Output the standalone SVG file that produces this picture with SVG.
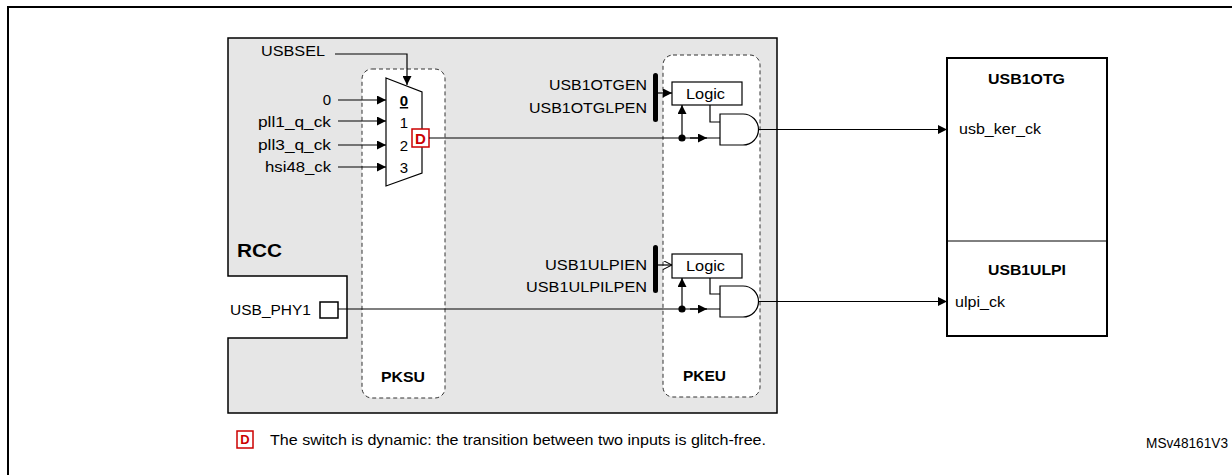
<svg xmlns="http://www.w3.org/2000/svg" width="1232" height="475" viewBox="0 0 1232 475">
<defs>
<style>
text{font-family:"Liberation Sans",Arial,sans-serif;font-size:15px;fill:#000}
.b{font-weight:bold}
.r{text-anchor:end}
.m{text-anchor:middle}
.ln{stroke:#000;stroke-width:1.2;fill:none}
.dash{stroke:#333;stroke-width:1;stroke-dasharray:4,3;fill:#fff}
</style>
<marker id="a" viewBox="0 0 10 10" refX="10" refY="5" markerWidth="9" markerHeight="9" markerUnits="userSpaceOnUse" orient="auto"><path d="M0,0L10,5L0,10z" fill="#000"/></marker>
<marker id="o" viewBox="0 0 10 10" refX="10" refY="5" markerWidth="9" markerHeight="9" markerUnits="userSpaceOnUse" orient="auto"><path d="M0,0L10,5L0,10" fill="none" stroke="#000" stroke-width="1.2"/></marker>
</defs>
<rect x="0" y="0" width="1232" height="475" fill="#fff"/>
<path d="M8,475V7H1232" fill="none" stroke="#000" stroke-width="2"/>
<g id="rcc">
<path d="M228,38H777V413H228V338H347V276H228Z" fill="#e6e6e6" stroke="#000" stroke-width="1.5"/>
<text x="237" y="257" class="b" style="font-size:18px" textLength="45" lengthAdjust="spacingAndGlyphs">RCC</text>
</g>
<g id="pksu"><rect x="362" y="69" width="83" height="329" rx="10" class="dash"/><text x="381" y="382" class="b" textLength="44" lengthAdjust="spacingAndGlyphs">PKSU</text></g>
<g id="pkeu"><rect x="663" y="55" width="97" height="342" rx="10" class="dash"/><text x="683" y="381" class="b" textLength="43" lengthAdjust="spacingAndGlyphs">PKEU</text></g>
<g id="mux">
<path d="M386,78L422,92V173L386,186Z" fill="#fff" stroke="#000" stroke-width="1.2"/>
<text x="404" y="106" class="b m" text-decoration="underline">0</text>
<text x="404" y="128" class="m">1</text>
<text x="404" y="151" class="m">2</text>
<text x="404" y="173" class="m">3</text>
<rect x="412" y="129" width="17" height="18" fill="#fff" stroke="#c00" stroke-width="1.5"/>
<text x="420.5" y="144" class="b m" style="fill:#c00">D</text>
</g>
<g id="inputs">
<text x="261" y="56" textLength="64" lengthAdjust="spacingAndGlyphs">USBSEL</text>
<text x="331" y="105" class="r">0</text>
<text x="258" y="127" textLength="73" lengthAdjust="spacingAndGlyphs">pll1_q_ck</text>
<text x="258" y="150" textLength="73" lengthAdjust="spacingAndGlyphs">pll3_q_ck</text>
<text x="265" y="172" textLength="66" lengthAdjust="spacingAndGlyphs">hsi48_ck</text>
</g>
<g id="usbphy1"><text x="230" y="315" textLength="81" lengthAdjust="spacingAndGlyphs">USB_PHY1</text><rect x="320" y="302" width="18" height="16" fill="#fff" stroke="#000" stroke-width="1.5"/></g>
<g id="logic1">
<rect x="653" y="73" width="5" height="49" rx="2.5" fill="#000"/>
<text x="549" y="90" textLength="98" lengthAdjust="spacingAndGlyphs">USB1OTGEN</text>
<text x="529" y="113" textLength="118" lengthAdjust="spacingAndGlyphs">USB1OTGLPEN</text>
<rect x="672" y="82" width="70" height="23" fill="#fff" stroke="#000" stroke-width="1.2"/>
<text x="686" y="99" textLength="39" lengthAdjust="spacingAndGlyphs">Logic</text>
<path d="M720,114H743A15.5,15.5 0 0 1 743,145H720Z" fill="#fff" stroke="#000" stroke-width="1.2"/>
</g>
<g id="logic2">
<rect x="653" y="245" width="5" height="48" rx="2.5" fill="#000"/>
<text x="545" y="270" textLength="102" lengthAdjust="spacingAndGlyphs">USB1ULPIEN</text>
<text x="526" y="292" textLength="121" lengthAdjust="spacingAndGlyphs">USB1ULPILPEN</text>
<rect x="672" y="254" width="70" height="24" fill="#fff" stroke="#000" stroke-width="1.2"/>
<text x="686" y="271" textLength="39" lengthAdjust="spacingAndGlyphs">Logic</text>
<path d="M720,286H743A15.5,15.5 0 0 1 743,317H720Z" fill="#fff" stroke="#000" stroke-width="1.2"/>
</g>
<g id="usb1otg">
<rect x="947" y="58" width="160" height="278" fill="#fff" stroke="#000" stroke-width="2"/>
<line x1="947" y1="241" x2="1107" y2="241" stroke="#000" stroke-width="1"/>
<text x="988" y="84" class="b" textLength="77" lengthAdjust="spacingAndGlyphs">USB1OTG</text>
<text x="959" y="134" textLength="82" lengthAdjust="spacingAndGlyphs">usb_ker_ck</text>
<text x="988" y="275" class="b" textLength="78" lengthAdjust="spacingAndGlyphs">USB1ULPI</text>
<text x="955" y="307" textLength="50" lengthAdjust="spacingAndGlyphs">ulpi_ck</text>
</g>
<g id="connectors" class="ln">
<path d="M335,54H407V85" marker-end="url(#a)"/>
<path d="M338,100H386" marker-end="url(#a)"/>
<path d="M338,121H386" marker-end="url(#a)"/>
<path d="M338,145H386" marker-end="url(#a)"/>
<path d="M338,167H386" marker-end="url(#a)"/>
<path d="M429,138H720"/>
<path d="M690,138H707" marker-end="url(#a)"/>
<path d="M682,138V105" marker-end="url(#a)"/>
<path d="M658,93H672" marker-end="url(#a)"/>
<path d="M710,105V122H720"/>
<path d="M758.5,129.5H947" marker-end="url(#a)"/>
<path d="M338,309H720"/>
<path d="M690,309H707" marker-end="url(#a)"/>
<path d="M682,309V278" marker-end="url(#a)"/>
<path d="M658,265H672" marker-end="url(#o)"/>
<path d="M710,278V294H720"/>
<path d="M758.5,301.5H947" marker-end="url(#a)"/>
<circle cx="682" cy="138" r="3" fill="#000"/>
<circle cx="682" cy="309" r="3" fill="#000"/>
</g>
<g id="legend">
<rect x="237" y="431" width="16" height="17" fill="#fff" stroke="#c00" stroke-width="1.5"/>
<text x="245" y="444" class="b m" style="fill:#c00;font-size:13px">D</text>
<text x="270" y="445" textLength="496" lengthAdjust="spacingAndGlyphs">The switch is dynamic: the transition between two inputs is glitch-free.</text>
<text x="1146" y="448" textLength="82" lengthAdjust="spacingAndGlyphs">MSv48161V3</text>
</g>
</svg>
